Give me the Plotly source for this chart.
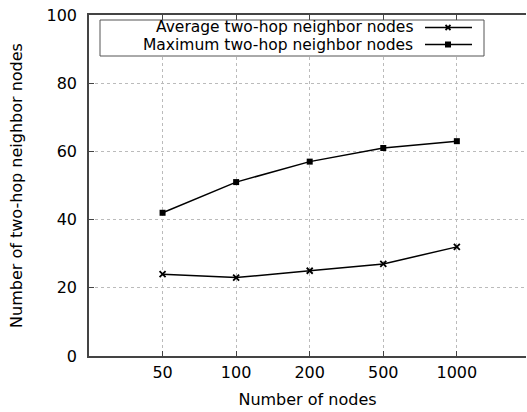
import plotly.graph_objects as go

categories = ["50", "100", "200", "500", "1000"]
avg_nodes = [24, 23, 25, 27, 32]
max_nodes = [42, 51, 57, 61, 63]
series_names = ["Average two-hop neighbor nodes", "Maximum two-hop neighbor nodes"]
y_ticks = [0, 20, 40, 60, 80, 100]

xpos = list(range(1, len(categories) + 1))
FONT = "DejaVu Sans"
FS = 16
LFS = 15.5
W, H = 527, 412
L, R, T, B = 89, 1, 15, 56

fig = go.Figure()
fig.add_trace(go.Scatter(x=xpos, y=avg_nodes, mode="lines+markers", name=series_names[0],
                         line=dict(color="black", width=1.5),
                         marker=dict(symbol="x-thin-open", size=6, line=dict(color="black", width=1.8)),
                         showlegend=False))
fig.add_trace(go.Scatter(x=xpos, y=max_nodes, mode="lines+markers", name=series_names[1],
                         line=dict(color="black", width=1.5),
                         marker=dict(symbol="square", size=6, color="black"),
                         showlegend=False))

# manual legend (gnuplot style: text right-aligned, sample on the right)
pw, ph = W - L - R, H - T - B
def px(x):
    return (x - L) / pw
def py(y):
    return 1 - (y - T) / ph

shapes = [dict(type="rect", xref="paper", yref="paper", x0=px(100), x1=px(484), y0=py(56), y1=py(20),
               line=dict(color="#555", width=1), fillcolor="white", layer="above")]
annotations = []
rows = [27.5, 44.5]
for i, (name, yy) in enumerate(zip(series_names, rows)):
    annotations.append(dict(xref="paper", yref="paper", x=px(415), y=py(yy), text=name, showarrow=False,
                            xanchor="right", yanchor="middle", font=dict(family=FONT, size=LFS, color="black")))
    shapes.append(dict(type="line", xref="paper", yref="paper", x0=px(425), x1=px(472), y0=py(yy), y1=py(yy),
                       line=dict(color="black", width=1.5), layer="above"))
    cx, cy = 448, yy
    if i == 0:
        for dx in (-2.5, 2.5):
            shapes.append(dict(type="line", xref="paper", yref="paper", x0=px(cx - 2.5), x1=px(cx + 2.5),
                               y0=py(cy - dx), y1=py(cy + dx), line=dict(color="black", width=1.8), layer="above"))
    else:
        shapes.append(dict(type="rect", xref="paper", yref="paper", x0=px(cx - 3), x1=px(cx + 3),
                           y0=py(cy + 3), y1=py(cy - 3), line=dict(color="black", width=0),
                           fillcolor="black", layer="above"))

fig.update_layout(
    width=W, height=H, margin=dict(l=L, r=R, t=T, b=B),
    paper_bgcolor="white", plot_bgcolor="white",
    font=dict(family=FONT, size=FS, color="black"),
    shapes=shapes, annotations=annotations,
    xaxis=dict(range=[0, 5.94], tickmode="array", tickvals=xpos, ticktext=categories,
               showgrid=True, gridcolor="#bbb", griddash="dot", gridwidth=1,
               showline=True, linecolor="#444", linewidth=1.5, mirror="ticks",
               ticks="inside", ticklen=5, tickcolor="#444", zeroline=False,
               ticklabelstandoff=1,
               title=dict(text="Number of nodes", font=dict(size=FS), standoff=13)),
    yaxis=dict(range=[0, 100], tickmode="array", tickvals=y_ticks,
               showgrid=True, gridcolor="#bbb", griddash="dot", gridwidth=1,
               showline=True, linecolor="#444", linewidth=1.5,
               ticks="inside", ticklen=5, tickcolor="#444", zeroline=False,
               ticklabelstandoff=7,
               title=dict(text="Number of two-hop neighbor nodes", font=dict(size=FS), standoff=20)),
)

fig.write_html("out.html")
